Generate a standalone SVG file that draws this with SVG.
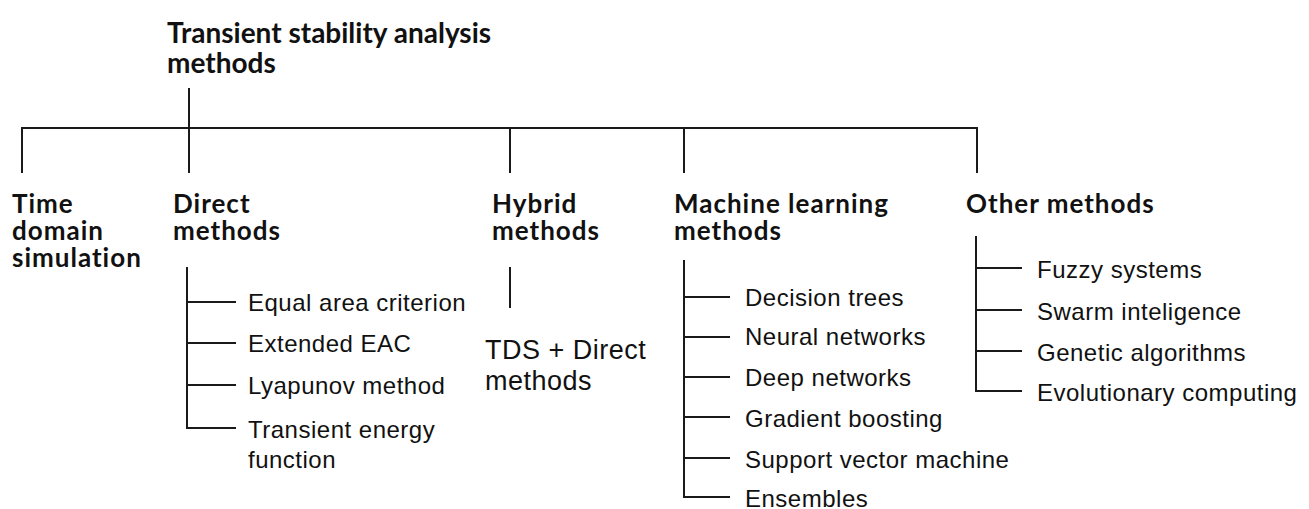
<svg xmlns="http://www.w3.org/2000/svg" width="1309" height="509" viewBox="0 0 1309 509">
<style>
.h{font-family:Lato,"Liberation Sans",sans-serif;font-weight:700;font-size:26px;letter-spacing:1px;fill:#111}
.t{font-family:Lato,"Liberation Sans",sans-serif;font-weight:700;font-size:28px;fill:#111}
.r{font-family:"Liberation Sans",Arial,sans-serif;font-size:24px;letter-spacing:0.5px;fill:#111}
.r2{font-family:"Liberation Sans",Arial,sans-serif;font-size:27px;letter-spacing:0.5px;fill:#111}
.c line{stroke:#1a1a1a;stroke-width:2;fill:none}
</style>
<rect width="1309" height="509" fill="#fff"/>
<g class="c" id="connectors">
<line x1="189" y1="88" x2="189" y2="128"/>
<line x1="21" y1="128" x2="978" y2="128"/>
<line x1="22" y1="127" x2="22" y2="173"/>
<line x1="189" y1="127" x2="189" y2="173"/>
<line x1="510" y1="127" x2="510" y2="173"/>
<line x1="684" y1="127" x2="684" y2="173"/>
<line x1="977" y1="127" x2="977" y2="173"/>
<line x1="187" y1="267" x2="187" y2="429"/>
<line x1="186" y1="302" x2="236" y2="302"/>
<line x1="186" y1="343" x2="236" y2="343"/>
<line x1="186" y1="385" x2="236" y2="385"/>
<line x1="186" y1="428" x2="236" y2="428"/>
<line x1="510" y1="267" x2="510" y2="308"/>
<line x1="684" y1="260" x2="684" y2="498"/>
<line x1="683" y1="297" x2="730" y2="297"/>
<line x1="683" y1="337" x2="730" y2="337"/>
<line x1="683" y1="377" x2="730" y2="377"/>
<line x1="683" y1="417" x2="730" y2="417"/>
<line x1="683" y1="458" x2="730" y2="458"/>
<line x1="683" y1="497" x2="730" y2="497"/>
<line x1="976" y1="236" x2="976" y2="392"/>
<line x1="975" y1="268" x2="1022" y2="268"/>
<line x1="975" y1="310" x2="1022" y2="310"/>
<line x1="975" y1="351" x2="1022" y2="351"/>
<line x1="975" y1="391" x2="1022" y2="391"/>
</g>
<g id="root"><text class="t" x="167" y="43">Transient stability analysis</text><text class="t" x="167" y="73">methods</text></g>
<g id="tds"><text class="h" x="12" y="213">Time</text><text class="h" x="12" y="240">domain</text><text class="h" x="12" y="267">simulation</text></g>
<g id="direct"><text class="h" x="173" y="213">Direct</text><text class="h" x="173" y="240">methods</text></g>
<g id="hybrid"><text class="h" x="492" y="213">Hybrid</text><text class="h" x="492" y="240">methods</text></g>
<g id="ml"><text class="h" x="674" y="213">Machine learning</text><text class="h" x="674" y="240">methods</text></g>
<g id="other"><text class="h" x="966" y="213">Other methods</text></g>
<g id="direct-items">
<text class="r" x="248" y="311">Equal area criterion</text>
<text class="r" x="248" y="352">Extended EAC</text>
<text class="r" x="248" y="394">Lyapunov method</text>
<text class="r" x="248" y="438">Transient energy</text>
<text class="r" x="248" y="468">function</text>
</g>
<g id="hybrid-item"><text class="r2" x="485" y="359">TDS + Direct</text><text class="r2" x="485" y="390">methods</text></g>
<g id="ml-items">
<text class="r" x="745" y="306">Decision trees</text>
<text class="r" x="745" y="345">Neural networks</text>
<text class="r" x="745" y="386">Deep networks</text>
<text class="r" x="745" y="427">Gradient boosting</text>
<text class="r" x="745" y="468">Support vector machine</text>
<text class="r" x="745" y="507">Ensembles</text>
</g>
<g id="other-items">
<text class="r" x="1037" y="278">Fuzzy systems</text>
<text class="r" x="1037" y="320">Swarm inteligence</text>
<text class="r" x="1037" y="361">Genetic algorithms</text>
<text class="r" x="1037" y="401">Evolutionary computing</text>
</g>
</svg>
